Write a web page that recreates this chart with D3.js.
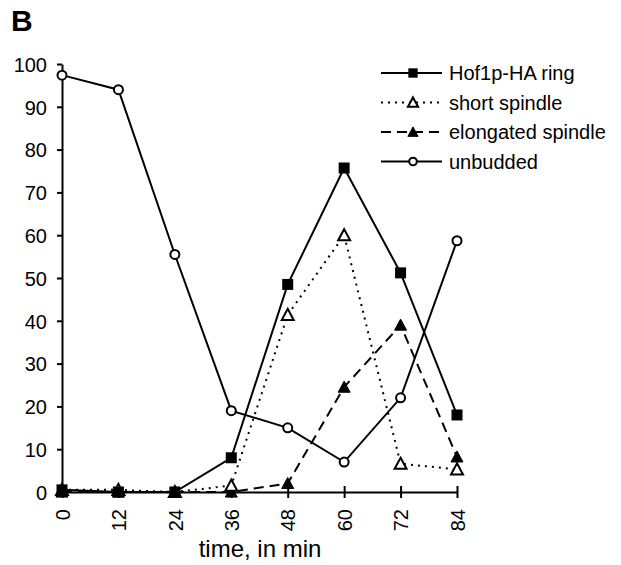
<!DOCTYPE html>
<html>
<head>
<meta charset="utf-8">
<title>B</title>
<script src="https://cdn.jsdelivr.net/npm/d3@7"></script>
<style>
  body{margin:0;background:#fff;}
  svg text{font-family:"Liberation Sans",Arial,sans-serif;fill:#000;}
  .axis path,.axis line{stroke:#000;stroke-width:2;fill:none;}
  .axis text{font-size:20px;}
</style>
</head>
<body>
<script>
// time points (min)
var times = [0, 12, 24, 36, 48, 60, 72, 84];
var yTicks = [0, 10, 20, 30, 40, 50, 60, 70, 80, 90, 100];
// percentages
var hof1Ring = [0.5, 0, 0, 8, 48.5, 75.7, 51.2, 18];
var shortSpindle = [0.5, 0.5, 0, 1.5, 41.4, 60, 6.6, 5.3];
var elongSpindle = [0, 0, 0, 0, 2, 24.5, 39, 8.2];
var unbudded = [97.4, 94, 55.5, 19, 15, 7, 22, 58.7];

var seriesNames = ["Hof1p-HA ring", "short spindle", "elongated spindle", "unbudded"];

var width = 621, height = 565;
var svg = d3.select("body").append("svg")
  .attr("width", width).attr("height", height);

var x = d3.scaleLinear().domain([0, 84]).range([62, 457]);
var y = d3.scaleLinear().domain([0, 100]).range([492, 64]);

// panel letter
svg.append("text").attr("x", 11).attr("y", 31)
  .style("font-size", "30px").style("font-weight", "bold").text("B");

// y axis
var yAxis = d3.axisLeft(y).tickValues(yTicks).tickSize(5).tickSizeOuter(0).tickPadding(10);
svg.append("g").attr("class", "axis")
  .attr("transform", "translate(" + x(0) + ",0)")
  .call(yAxis)
  .selectAll("text").attr("dy", "0.36em");

// x axis, ticks crossing the line
var xAxis = d3.axisBottom(x).tickValues(times).tickSizeInner(6).tickSizeOuter(0).tickPadding(8);
var gx = svg.append("g").attr("class", "axis")
  .attr("transform", "translate(0," + y(0) + ")")
  .call(xAxis);
gx.selectAll(".tick line").attr("y1", -6).attr("y2", 6);
gx.selectAll(".tick text")
  .attr("transform", "rotate(-90)")
  .attr("x", -17).attr("y", 0).attr("dy", "0.36em")
  .style("text-anchor", "end");

svg.append("text").attr("x", 260).attr("y", 557)
  .style("font-size", "24px").style("text-anchor", "middle").text("time, in min");

var series = [
  {name: seriesNames[0], vals: hof1Ring, dash: null, marker: "square"},
  {name: seriesNames[1], vals: shortSpindle, dash: "2,5", marker: "triOpen"},
  {name: seriesNames[2], vals: elongSpindle, dash: "10,6", marker: "triFilled"},
  {name: seriesNames[3], vals: unbudded, dash: null, marker: "circle"}
];

var line = d3.line()
  .x(function(d){ return x(d[0]); })
  .y(function(d){ return y(d[1]); });

function drawMarker(g, type, cx, cy, small){
  var s = small ? 0.85 : 1;
  if (type == "square") {
    g.append("rect").attr("x", cx - 5.5*s).attr("y", cy - 5.5*s)
      .attr("width", 11*s).attr("height", 11*s).attr("fill", "#000");
  } else if (type == "circle") {
    g.append("circle").attr("cx", cx).attr("cy", cy).attr("r", 4.5*s)
      .attr("fill", "#fff").attr("stroke", "#000").attr("stroke-width", 2);
  } else {
    var filled = type == "triFilled";
    var h = 6*s;
    var pts = [[cx, cy - h], [cx + h, cy + h*0.85], [cx - h, cy + h*0.85]];
    g.append("path").attr("d", "M" + pts.join("L") + "Z")
      .attr("fill", filled ? "#000" : "#fff")
      .attr("stroke", "#000").attr("stroke-width", filled ? 1 : 2)
      .attr("stroke-linejoin", "miter");
  }
}

var plot = svg.append("g");
series.forEach(function(s){
  var pts = times.map(function(t, i){ return [t, s.vals[i]]; });
  plot.append("path").attr("d", line(pts))
    .attr("fill", "none").attr("stroke", "#000").attr("stroke-width", 2)
    .attr("stroke-dasharray", s.dash);
});
series.slice().reverse().forEach(function(s){
  var g = plot.append("g");
  times.forEach(function(t, i){ drawMarker(g, s.marker, x(t), y(s.vals[i])); });
});

// legend
var legend = svg.append("g");
series.forEach(function(s, i){
  var ly = 73 + i * 29.5;
  legend.append("line").attr("x1", 381).attr("x2", 442).attr("y1", ly).attr("y2", ly)
    .attr("stroke", "#000").attr("stroke-width", 2).attr("stroke-dasharray", s.dash);
  drawMarker(legend, s.marker, 413, ly, true);
  legend.append("text").attr("x", 449).attr("y", ly).attr("dy", "0.36em")
    .style("font-size", "20px").text(s.name);
});
</script>
</body>
</html>
